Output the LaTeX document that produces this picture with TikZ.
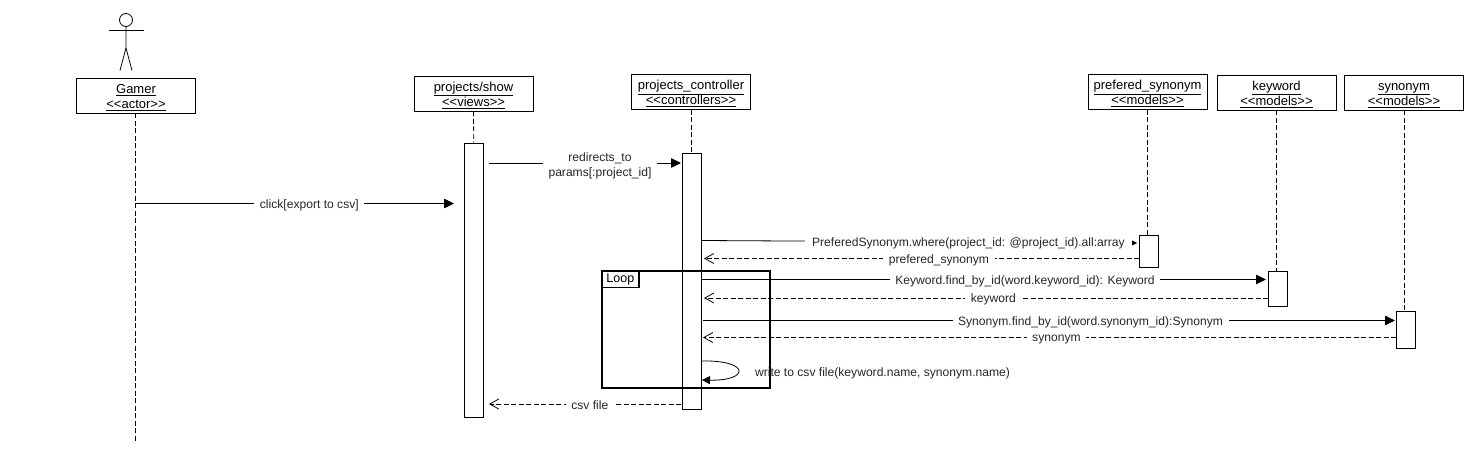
\documentclass[tikz,border=0pt]{standalone}
\usepackage{fontspec}
\newfontfamily\diagfont{Liberation Sans}
\usetikzlibrary{arrows.meta}
\newcommand{\headlabel}[2]{\rule{0pt}{12.5pt}\underline{#1}\\\underline{#2}}
\tikzset{
  lifebox/.style={draw,fill=white,align=center,minimum width=119pt,minimum height=35pt,inner sep=0pt,
    font=\diagfont\fontsize{13}{15}\selectfont},
  actbox/.style={draw,fill=white,minimum width=19pt,inner sep=0pt},
  lifeline/.style={dashed,dash pattern=on 5pt off 2.5pt},
  msg/.style={-{Triangle[length=10pt,width=9.5pt]}},
  reply/.style={dashed,dash pattern=on 5pt off 2.5pt,-{Straight Barb[length=9pt,width=10pt]}},
  msglabel/.style={fill=white,inner xsep=5.5pt,inner ysep=1pt,align=center,yshift=-1.5pt,text=black!85,
    font=\diagfont\fontsize{12.1}{15}\selectfont}
}
\begin{document}
\begin{tikzpicture}[x=1pt,y=-1pt,line width=0.8pt]
  \useasboundingbox (0,0) rectangle (1484,463);

  % Stick figure
  \draw (126,20) circle (6.5pt);
  \draw (108.5,30) -- (143.5,30);
  \draw (126,26.5) -- (126,48) -- (120,70.5);
  \draw (126,48) -- (132,70.5);

  % Lifeline heads
  \node[lifebox] (gamer) at (136,95.5) {\headlabel{Gamer}{<<actor>>}};
  \node[lifebox] (views) at (473.5,93.5) {\headlabel{projects/show}{<<views>>}};
  \node[lifebox] (controller) at (691,92) {\headlabel{projects\_controller}{<<controllers>>}};
  \node[lifebox] (prefered) at (1147.5,92) {\headlabel{prefered\_synonym}{<<models>>}};
  \node[lifebox] (keyword) at (1276.5,92.5) {\headlabel{keyword}{<<models>>}};
  \node[lifebox] (synonym) at (1404,92.5) {\headlabel{synonym}{<<models>>}};

  % Activation bars
  \node[actbox,minimum height=274pt] (actViews) at (473.75,280) {};
  \node[actbox,minimum height=256pt] (actController) at (692,281) {};
  \node[actbox,minimum height=32pt] (actPrefered) at (1148.75,251) {};
  \node[actbox,minimum height=35pt] (actKeyword) at (1277.5,288.5) {};
  \node[actbox,minimum height=36.5pt] (actSynonym) at (1405.5,329.75) {};

  % Lifelines
  \coordinate (gamerEnd) at (135,442);
  \draw[lifeline] (gamer.south -| gamerEnd) -- (gamerEnd);
  \draw[lifeline] (views.south) -- (actViews.north);
  \draw[lifeline] (controller.south) -- (controller.south |- actController.north);
  \draw[lifeline] (prefered.south) -- (prefered.south |- actPrefered.north);
  \draw[lifeline] (keyword.south) -- (keyword.south |- actKeyword.north);
  \draw[lifeline] (synonym.south) -- (synonym.south |- actSynonym.north);

  % Loop frame
  \node[draw,line width=2pt,minimum width=168pt,minimum height=116.5pt,inner sep=0pt] (loopFrame) at (686,329.25) {};
  \node[draw,line width=1.6pt,fill=white,anchor=north west,minimum width=37pt,minimum height=16.5pt,inner sep=0pt,
    font=\diagfont\fontsize{12.5}{14}\selectfont] (loopTag) at (loopFrame.north west) {Loop};

  % Calls
  \coordinate (clickFrom) at (136,203.5);
  \coordinate (clickTo) at (454,203.5);
  \draw[msg] (clickFrom) -- node[msglabel,pos=0.545] {click[export to csv]} (clickTo);
  \coordinate (redirFrom) at (489,163);
  \coordinate (redirTo) at (681,163);
  \draw[msg] (redirFrom) -- node[msglabel,pos=0.578,yshift=-1.5pt,inner ysep=2pt] {redirects\_to\\params[:project\_id]} (redirTo);
  \coordinate (whereFrom) at (701.5,240.5);
  \coordinate (whereTo) at (1137,243);
  \draw[-{Triangle[length=7pt,width=7pt]}] (whereFrom) -- node[msglabel,pos=0.613,inner xsep=7pt] {PreferedSynonym.where(project\_id: @project\_id).all:array} (whereTo);
  \coordinate (keyFrom) at (701.5,279.5);
  \coordinate (keyTo) at (1266,279.5);
  \draw[msg] (keyFrom) -- node[msglabel,pos=0.573] {Keyword.find\_by\_id(word.keyword\_id): Keyword} (keyTo);
  \coordinate (synFrom) at (703,320.5);
  \coordinate (synTo) at (1395,320.5);
  \draw[msg] (synFrom) -- node[msglabel,pos=0.56] {Synonym.find\_by\_id(word.synonym\_id):Synonym} (synTo);

  % Returns
  \coordinate (retPreferedFrom) at (1139,258.5);
  \coordinate (retPreferedTo) at (704,258.5);
  \draw[reply] (retPreferedFrom) -- node[msglabel,pos=0.46] {prefered\_synonym} (retPreferedTo);
  \coordinate (retKeyFrom) at (1268,298);
  \coordinate (retKeyTo) at (704,298);
  \draw[reply] (retKeyFrom) -- node[msglabel,pos=0.487] {keyword} (retKeyTo);
  \coordinate (retSynFrom) at (1396,337.5);
  \coordinate (retSynTo) at (703,337.5);
  \draw[reply] (retSynFrom) -- node[msglabel,pos=0.49] {synonym} (retSynTo);
  \coordinate (csvFrom) at (681,404);
  \coordinate (csvTo) at (489,404);
  \draw[reply] (csvFrom) -- node[msglabel,pos=0.475] {csv file} (csvTo);

  % Self call
  \coordinate (selfFrom) at (702,361);
  \coordinate (selfTo) at (702,380);
  \draw[-{Triangle[length=8pt,width=8pt]}] (selfFrom) .. controls (750,360) and (750,381) .. (selfTo);
  \node[font=\diagfont\fontsize{12.1}{15}\selectfont,text=black!85,inner sep=0pt] (selfLabel) at (882.5,373.5) {write to csv file(keyword.name, synonym.name)};
\end{tikzpicture}
\end{document}
